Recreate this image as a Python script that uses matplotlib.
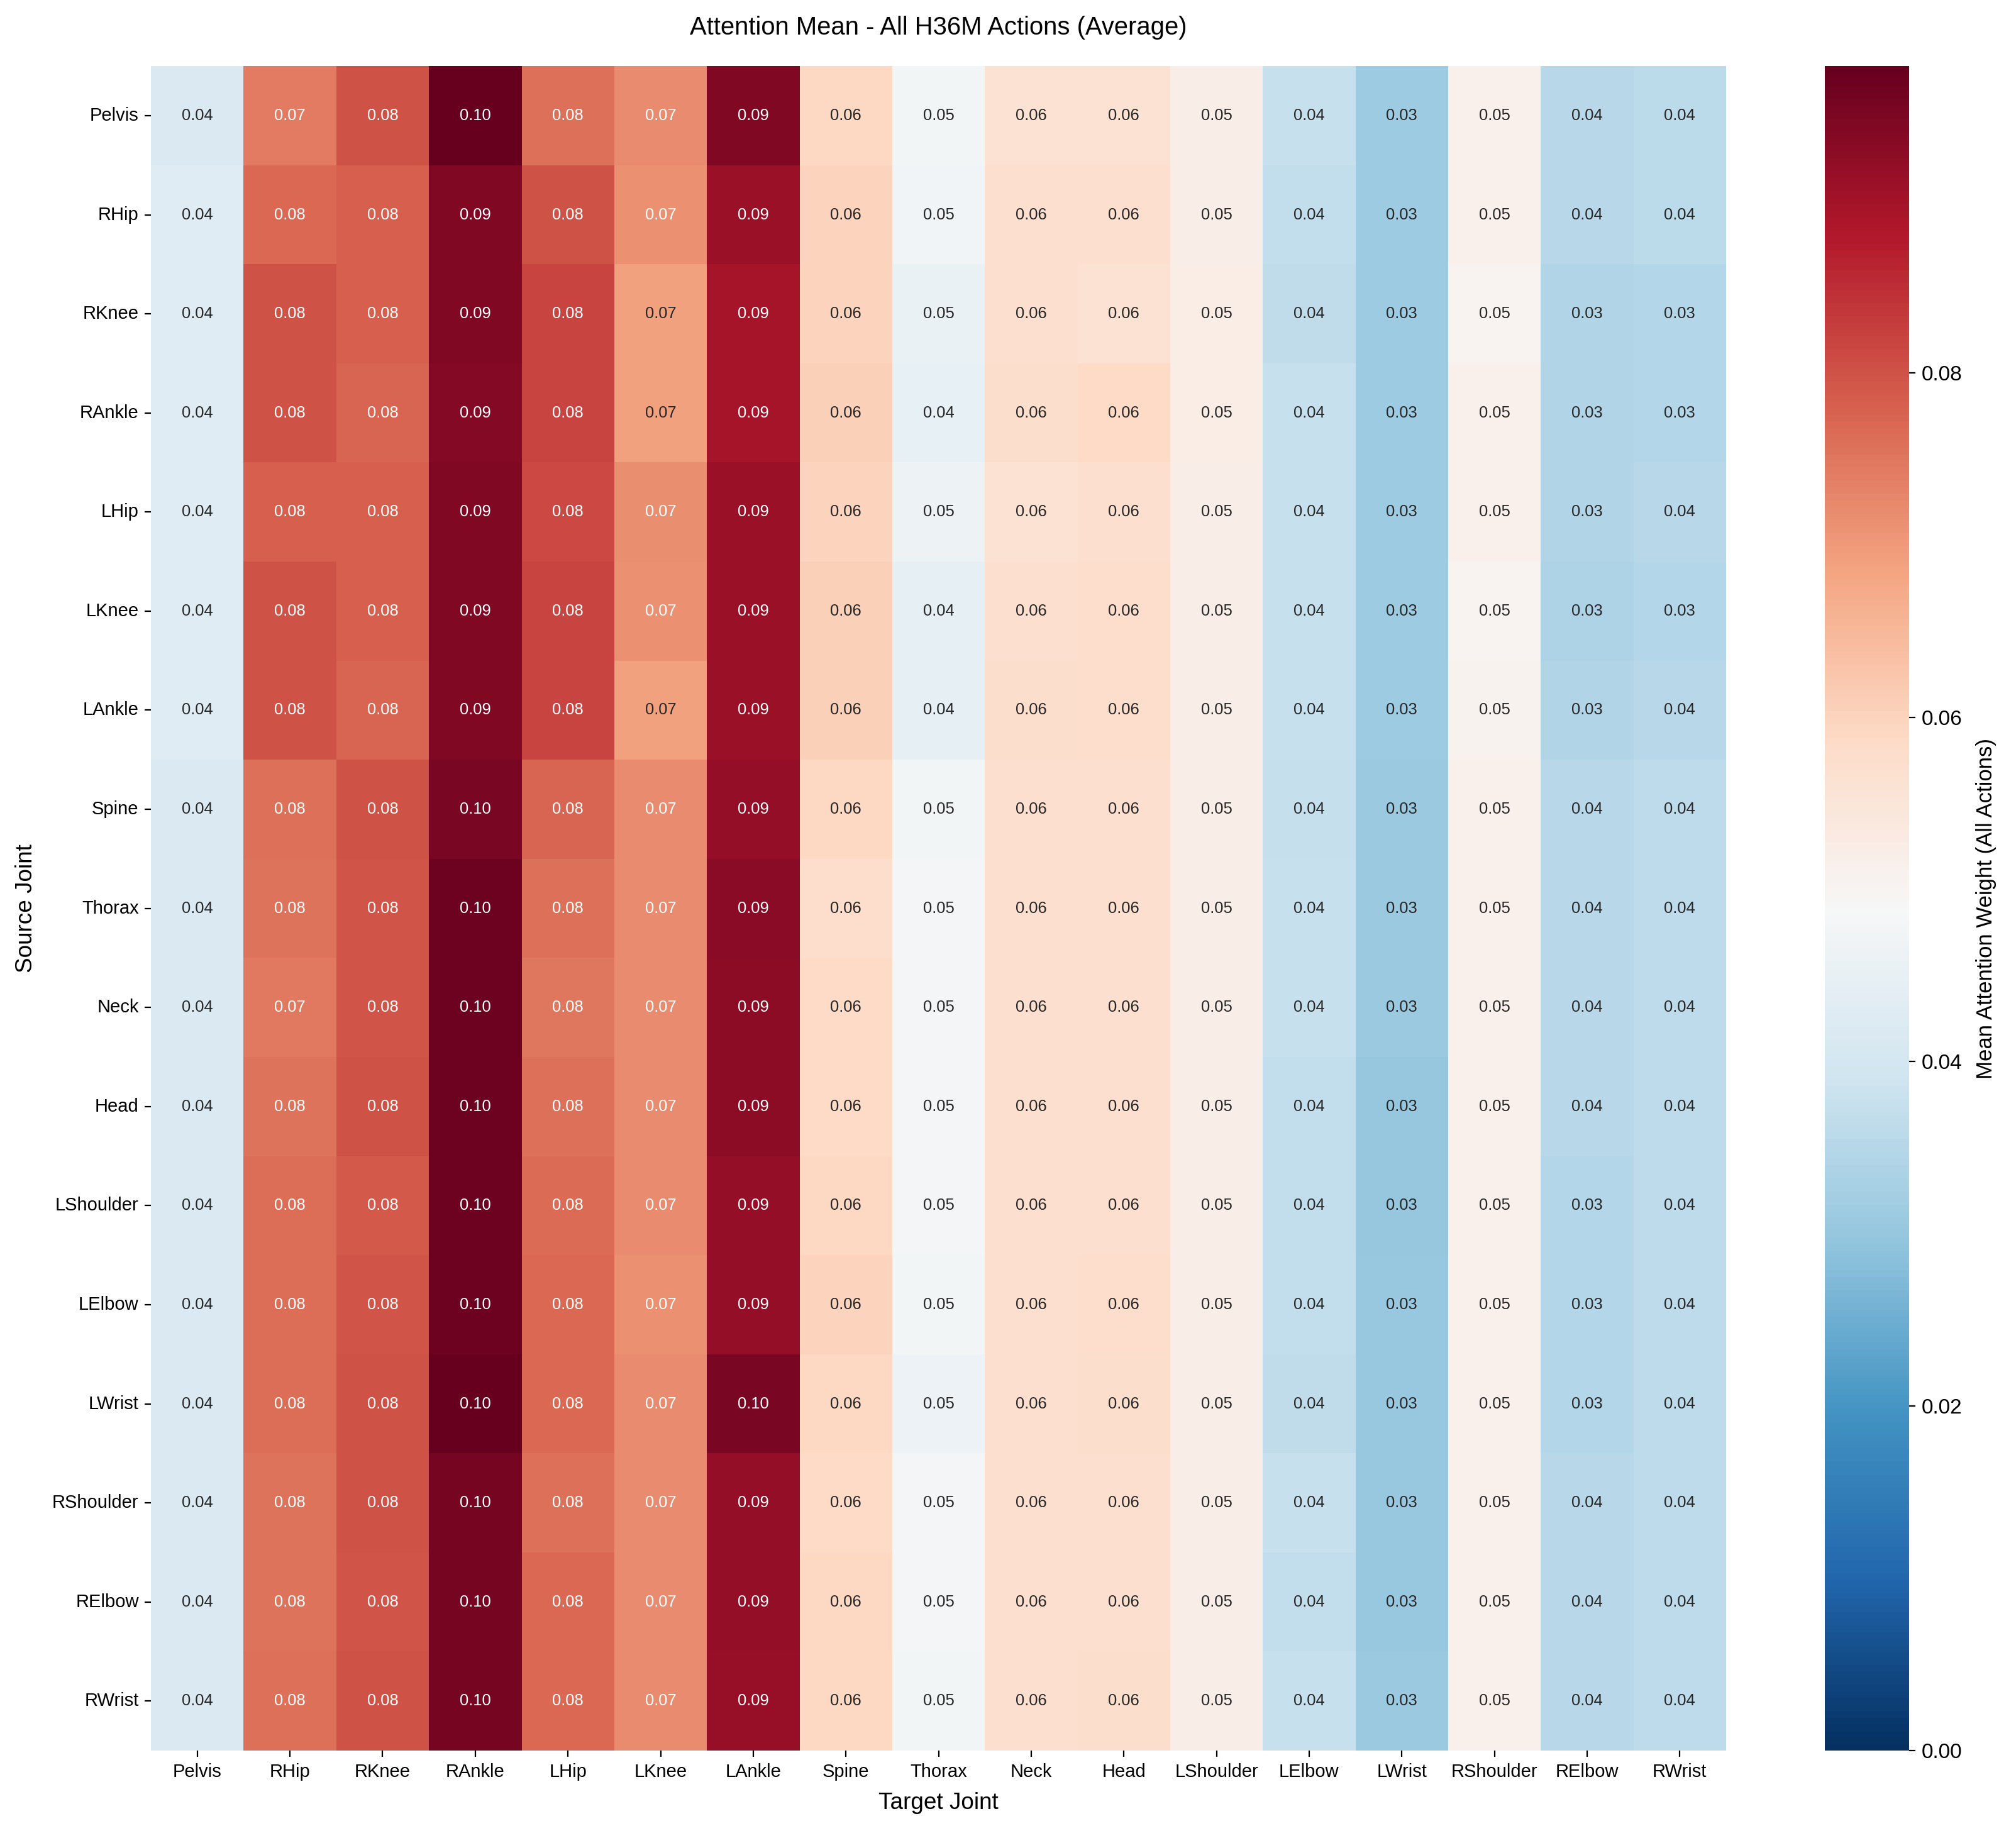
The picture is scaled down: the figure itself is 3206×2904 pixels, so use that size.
import numpy as np
import matplotlib
matplotlib.use("Agg")
import matplotlib.pyplot as plt
import seaborn as sns

plt.rcParams['font.family'] = ['Liberation Sans', 'DejaVu Sans']

joints = ["Pelvis", "RHip", "RKnee", "RAnkle", "LHip", "LKnee", "LAnkle", "Spine",
          "Thorax", "Neck", "Head", "LShoulder", "LElbow", "LWrist", "RShoulder",
          "RElbow", "RWrist"]

# Each list = one target-joint column, values for source rows in `joints` order
col_pelvis = [0.0415, 0.0430, 0.0430, 0.0430, 0.0430, 0.0430, 0.0430, 0.0418, 0.0418,
              0.0418, 0.0418, 0.0418, 0.0418, 0.0418, 0.0418, 0.0418, 0.0418]
col_rhip = [0.0742, 0.0770, 0.0800, 0.0800, 0.0780, 0.0800, 0.0800, 0.0760, 0.0755,
            0.0745, 0.0755, 0.0762, 0.0762, 0.0762, 0.0755, 0.0755, 0.0760]
col_rknee = [0.0800, 0.0780, 0.0780, 0.0775, 0.0780, 0.0780, 0.0775, 0.0800, 0.0795,
             0.0795, 0.0800, 0.0790, 0.0795, 0.0800, 0.0800, 0.0795, 0.0800]
col_rankle = [0.0978, 0.0940, 0.0940, 0.0938, 0.0940, 0.0940, 0.0940, 0.0953, 0.0968,
              0.0968, 0.0968, 0.0970, 0.0970, 0.0975, 0.0958, 0.0958, 0.0958]
col_lhip = [0.0760, 0.0800, 0.0820, 0.0820, 0.0810, 0.0820, 0.0820, 0.0775, 0.0760,
            0.0752, 0.0757, 0.0765, 0.0770, 0.0770, 0.0760, 0.0770, 0.0770]
col_lknee = [0.0720, 0.0712, 0.0690, 0.0688, 0.0715, 0.0712, 0.0690, 0.0720, 0.0720,
             0.0720, 0.0720, 0.0720, 0.0712, 0.0720, 0.0720, 0.0720, 0.0720]
col_lankle = [0.0940, 0.0910, 0.0895, 0.0895, 0.0910, 0.0910, 0.0910, 0.0920, 0.0930,
              0.0925, 0.0925, 0.0920, 0.0920, 0.0952, 0.0920, 0.0920, 0.0915]
col_spine = [0.0590, 0.0600, 0.0600, 0.0607, 0.0600, 0.0605, 0.0607, 0.0590, 0.0578,
             0.0585, 0.0588, 0.0592, 0.0600, 0.0590, 0.0585, 0.0590, 0.0590]
col_thorax = [0.0475, 0.0470, 0.0455, 0.0447, 0.0465, 0.0445, 0.0445, 0.0475, 0.0480,
              0.0480, 0.0480, 0.0480, 0.0475, 0.0462, 0.0480, 0.0478, 0.0475]
col_neck = [0.0565, 0.0570, 0.0570, 0.0575, 0.0562, 0.0570, 0.0575, 0.0570, 0.0570,
            0.0570, 0.0570, 0.0570, 0.0570, 0.0570, 0.0570, 0.0570, 0.0570]
col_head = [0.0565, 0.0570, 0.0565, 0.0585, 0.0570, 0.0577, 0.0580, 0.0570, 0.0570,
            0.0570, 0.0570, 0.0573, 0.0580, 0.0575, 0.0572, 0.0570, 0.0575]
col_lshoulder = [0.0520, 0.0520, 0.0525, 0.0525, 0.0520, 0.0522, 0.0520, 0.0520, 0.0522,
                 0.0522, 0.0522, 0.0522, 0.0522, 0.0522, 0.0522, 0.0522, 0.0522]
col_lelbow = [0.0375, 0.0370, 0.0365, 0.0375, 0.0375, 0.0375, 0.0375, 0.0372, 0.0375,
              0.0375, 0.0370, 0.0367, 0.0367, 0.0365, 0.0375, 0.0370, 0.0375]
col_lwrist = [0.0310, 0.0312, 0.0310, 0.0310, 0.0310, 0.0310, 0.0310, 0.0308, 0.0308,
              0.0308, 0.0300, 0.0300, 0.0305, 0.0305, 0.0305, 0.0305, 0.0308]
col_rshoulder = [0.0515, 0.0515, 0.0502, 0.0512, 0.0512, 0.0502, 0.0508, 0.0515, 0.0515,
                 0.0515, 0.0515, 0.0515, 0.0515, 0.0515, 0.0515, 0.0515, 0.0515]
col_relbow = [0.0352, 0.0352, 0.0342, 0.0342, 0.0342, 0.0340, 0.0342, 0.0352, 0.0354,
              0.0354, 0.0354, 0.0344, 0.0344, 0.0344, 0.0352, 0.0352, 0.0352]
col_rwrist = [0.0357, 0.0357, 0.0347, 0.0347, 0.0355, 0.0347, 0.0352, 0.0360, 0.0360,
              0.0360, 0.0360, 0.0360, 0.0360, 0.0360, 0.0360, 0.0360, 0.0360]

columns = [col_pelvis, col_rhip, col_rknee, col_rankle, col_lhip, col_lknee, col_lankle,
           col_spine, col_thorax, col_neck, col_head, col_lshoulder, col_lelbow,
           col_lwrist, col_rshoulder, col_relbow, col_rwrist]
data = np.column_stack(columns)

fig = plt.figure(figsize=(16.03, 14.52), dpi=200)
ax = fig.add_axes([0.0749, 0.0413, 0.7813, 0.9225])
cax = fig.add_axes([0.9052, 0.0413, 0.0418, 0.9225])

sns.heatmap(data, ax=ax, cbar_ax=cax, cmap="RdBu_r", vmin=0, annot=True, fmt=".2f",
            annot_kws={"fontsize": 9.2}, xticklabels=joints, yticklabels=joints,
            cbar_kws={"label": "Mean Attention Weight (All Actions)"})

ax.set_title("Attention Mean - All H36M Actions (Average)", fontsize=14.4, pad=18)
ax.set_xlabel("Target Joint", fontsize=13.3, labelpad=6.5)
ax.set_ylabel("Source Joint", fontsize=13.3, labelpad=8.5)
ax.tick_params(axis='x', labelsize=10.5, rotation=0)
ax.tick_params(axis='y', labelsize=10.5, rotation=0)
cax.tick_params(labelsize=12)
cax.set_ylabel("Mean Attention Weight (All Actions)", fontsize=12.5, labelpad=8)

fig.savefig("out.png", dpi=200)
